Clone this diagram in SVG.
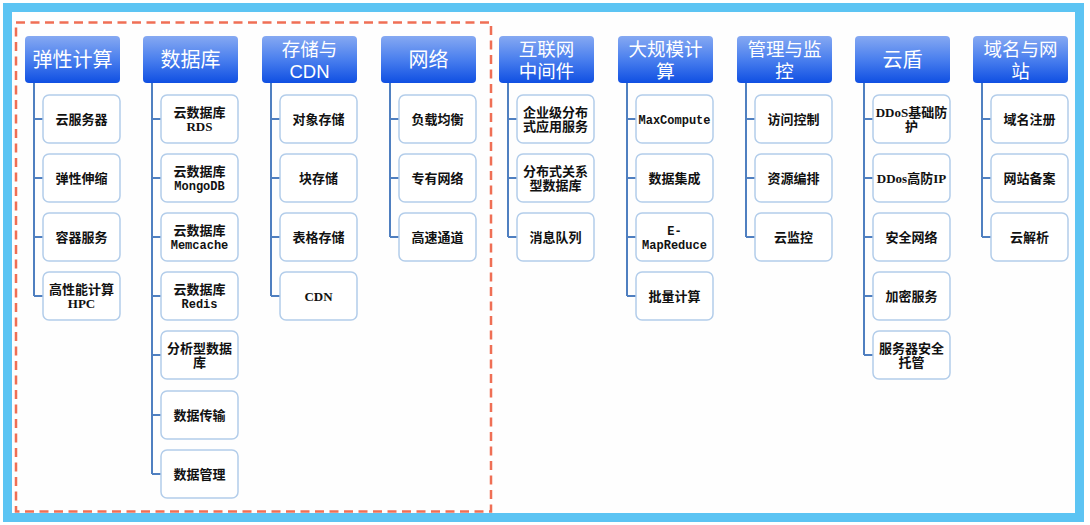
<svg xmlns="http://www.w3.org/2000/svg" width="1090" height="525" viewBox="0 0 1090 525">
<defs>
<linearGradient id="hg" x1="0" y1="0" x2="0" y2="1">
<stop offset="0" stop-color="#86a9f2"/>
<stop offset="0.5" stop-color="#4a7fee"/>
<stop offset="1" stop-color="#0f4fe2"/>
</linearGradient>
<style>
.hd{fill:url(#hg);}
.ht{fill:#ffffff;font-family:"Liberation Sans","Noto Sans CJK SC",sans-serif;font-size:20px;text-anchor:middle;}
.h2{font-size:18.5px;}
.bx{fill:#ffffff;stroke:#b3cdea;stroke-width:1.5;}
.bt{fill:#111111;font-family:"Liberation Serif","Noto Sans CJK SC",serif;font-weight:bold;font-size:13px;text-anchor:middle;}
.mono{font-family:"Liberation Mono","Noto Sans CJK SC",monospace;font-size:12px;}
.cn{fill:none;stroke:#4f7fc0;stroke-width:2;}
</style>
</defs>
<rect x="0" y="0" width="1090" height="525" fill="#ffffff"/>
<rect x="7.5" y="7.5" width="1072" height="510" fill="#fefefe" stroke="#5cc4f3" stroke-width="9"/>
<rect x="16" y="22.5" width="475" height="489" fill="none" stroke="#ef6f55" stroke-width="2.5" stroke-dasharray="9,5.5"/>

<g id="connectors">
<path class="cn" d="M34 83V296M34 119H43M34 178H43M34 237H43M34 296H43"/>
<path class="cn" d="M152 83V474M152 119H161M152 178H161M152 237H161M152 296H161M152 355H161M152 415H161M152 474H161"/>
<path class="cn" d="M271 83V296M271 119H280M271 178H280M271 237H280M271 296H280"/>
<path class="cn" d="M390 83V237M390 119H399M390 178H399M390 237H399"/>
<path class="cn" d="M508 83V237M508 119H517M508 178H517M508 237H517"/>
<path class="cn" d="M627 83V296M627 119H636M627 178H636M627 237H636M627 296H636"/>
<path class="cn" d="M746 83V237M746 119H755M746 178H755M746 237H755"/>
<path class="cn" d="M864 83V355M864 119H873M864 178H873M864 237H873M864 296H873M864 355H873"/>
<path class="cn" d="M982 83V237M982 119H991M982 178H991M982 237H991"/>
</g>

<g id="col1">
<rect class="hd" x="25" y="36" width="95" height="47" rx="4"/>
<text class="ht" x="72.5" y="67">弹性计算</text>
<rect class="bx" x="43" y="95" width="77" height="48" rx="6"/><text class="bt" x="81.5" y="123.5">云服务器</text>
<rect class="bx" x="43" y="154" width="77" height="48" rx="6"/><text class="bt" x="81.5" y="182.5">弹性伸缩</text>
<rect class="bx" x="43" y="213" width="77" height="48" rx="6"/><text class="bt" x="81.5" y="241.5">容器服务</text>
<rect class="bx" x="43" y="272" width="77" height="48" rx="6"/><text class="bt" x="81.5" y="293.5">高性能计算</text><text class="bt" x="81.5" y="307.5">HPC</text>
</g>

<g id="col2">
<rect class="hd" x="143" y="36" width="95" height="47" rx="4"/>
<text class="ht" x="190.5" y="67">数据库</text>
<rect class="bx" x="161" y="95" width="77" height="48" rx="6"/><text class="bt" x="199.5" y="116.5">云数据库</text><text class="bt" x="199.5" y="130.5">RDS</text>
<rect class="bx" x="161" y="154" width="77" height="48" rx="6"/><text class="bt" x="199.5" y="175.5">云数据库</text><text class="bt mono" x="199.5" y="189.5">MongoDB</text>
<rect class="bx" x="161" y="213" width="77" height="48" rx="6"/><text class="bt" x="199.5" y="234.5">云数据库</text><text class="bt mono" x="199.5" y="248.5">Memcache</text>
<rect class="bx" x="161" y="272" width="77" height="48" rx="6"/><text class="bt" x="199.5" y="293.5">云数据库</text><text class="bt mono" x="199.5" y="307.5">Redis</text>
<rect class="bx" x="161" y="331" width="77" height="48" rx="6"/><text class="bt" x="199.5" y="352.5">分析型数据</text><text class="bt" x="199.5" y="366.5">库</text>
<rect class="bx" x="161" y="391" width="77" height="48" rx="6"/><text class="bt" x="199.5" y="419.5">数据传输</text>
<rect class="bx" x="161" y="450" width="77" height="48" rx="6"/><text class="bt" x="199.5" y="478.5">数据管理</text>
</g>

<g id="col3">
<rect class="hd" x="262" y="36" width="95" height="47" rx="4"/>
<text class="ht h2" x="309.5" y="56">存储与</text><text class="ht h2" x="309.5" y="78">CDN</text>
<rect class="bx" x="280" y="95" width="77" height="48" rx="6"/><text class="bt" x="318.5" y="123.5">对象存储</text>
<rect class="bx" x="280" y="154" width="77" height="48" rx="6"/><text class="bt" x="318.5" y="182.5">块存储</text>
<rect class="bx" x="280" y="213" width="77" height="48" rx="6"/><text class="bt" x="318.5" y="241.5">表格存储</text>
<rect class="bx" x="280" y="272" width="77" height="48" rx="6"/><text class="bt" x="318.5" y="300.5">CDN</text>
</g>

<g id="col4">
<rect class="hd" x="381" y="36" width="95" height="47" rx="4"/>
<text class="ht" x="428.5" y="67">网络</text>
<rect class="bx" x="399" y="95" width="77" height="48" rx="6"/><text class="bt" x="437.5" y="123.5">负载均衡</text>
<rect class="bx" x="399" y="154" width="77" height="48" rx="6"/><text class="bt" x="437.5" y="182.5">专有网络</text>
<rect class="bx" x="399" y="213" width="77" height="48" rx="6"/><text class="bt" x="437.5" y="241.5">高速通道</text>
</g>

<g id="col5">
<rect class="hd" x="499" y="36" width="95" height="47" rx="4"/>
<text class="ht h2" x="546.5" y="56">互联网</text><text class="ht h2" x="546.5" y="78">中间件</text>
<rect class="bx" x="517" y="95" width="77" height="48" rx="6"/><text class="bt" x="555.5" y="116.5">企业级分布</text><text class="bt" x="555.5" y="130.5">式应用服务</text>
<rect class="bx" x="517" y="154" width="77" height="48" rx="6"/><text class="bt" x="555.5" y="175.5">分布式关系</text><text class="bt" x="555.5" y="189.5">型数据库</text>
<rect class="bx" x="517" y="213" width="77" height="48" rx="6"/><text class="bt" x="555.5" y="241.5">消息队列</text>
</g>

<g id="col6">
<rect class="hd" x="618" y="36" width="95" height="47" rx="4"/>
<text class="ht h2" x="665.5" y="56">大规模计</text><text class="ht h2" x="665.5" y="78">算</text>
<rect class="bx" x="636" y="95" width="77" height="48" rx="6"/><text class="bt mono" x="674.5" y="123.5">MaxCompute</text>
<rect class="bx" x="636" y="154" width="77" height="48" rx="6"/><text class="bt" x="674.5" y="182.5">数据集成</text>
<rect class="bx" x="636" y="213" width="77" height="48" rx="6"/><text class="bt mono" x="674.5" y="234.5">E-</text><text class="bt mono" x="674.5" y="248.5">MapReduce</text>
<rect class="bx" x="636" y="272" width="77" height="48" rx="6"/><text class="bt" x="674.5" y="300.5">批量计算</text>
</g>

<g id="col7">
<rect class="hd" x="737" y="36" width="95" height="47" rx="4"/>
<text class="ht h2" x="784.5" y="56">管理与监</text><text class="ht h2" x="784.5" y="78">控</text>
<rect class="bx" x="755" y="95" width="77" height="48" rx="6"/><text class="bt" x="793.5" y="123.5">访问控制</text>
<rect class="bx" x="755" y="154" width="77" height="48" rx="6"/><text class="bt" x="793.5" y="182.5">资源编排</text>
<rect class="bx" x="755" y="213" width="77" height="48" rx="6"/><text class="bt" x="793.5" y="241.5">云监控</text>
</g>

<g id="col8">
<rect class="hd" x="855" y="36" width="95" height="47" rx="4"/>
<text class="ht" x="902.5" y="67">云盾</text>
<rect class="bx" x="873" y="95" width="77" height="48" rx="6"/><text class="bt" x="911.5" y="116.5">DDoS基础防</text><text class="bt" x="911.5" y="130.5">护</text>
<rect class="bx" x="873" y="154" width="77" height="48" rx="6"/><text class="bt" x="911.5" y="182.5">DDos高防IP</text>
<rect class="bx" x="873" y="213" width="77" height="48" rx="6"/><text class="bt" x="911.5" y="241.5">安全网络</text>
<rect class="bx" x="873" y="272" width="77" height="48" rx="6"/><text class="bt" x="911.5" y="300.5">加密服务</text>
<rect class="bx" x="873" y="331" width="77" height="48" rx="6"/><text class="bt" x="911.5" y="352.5">服务器安全</text><text class="bt" x="911.5" y="366.5">托管</text>
</g>

<g id="col9">
<rect class="hd" x="973" y="36" width="95" height="47" rx="4"/>
<text class="ht h2" x="1020.5" y="56">域名与网</text><text class="ht h2" x="1020.5" y="78">站</text>
<rect class="bx" x="991" y="95" width="77" height="48" rx="6"/><text class="bt" x="1029.5" y="123.5">域名注册</text>
<rect class="bx" x="991" y="154" width="77" height="48" rx="6"/><text class="bt" x="1029.5" y="182.5">网站备案</text>
<rect class="bx" x="991" y="213" width="77" height="48" rx="6"/><text class="bt" x="1029.5" y="241.5">云解析</text>
</g>
</svg>
